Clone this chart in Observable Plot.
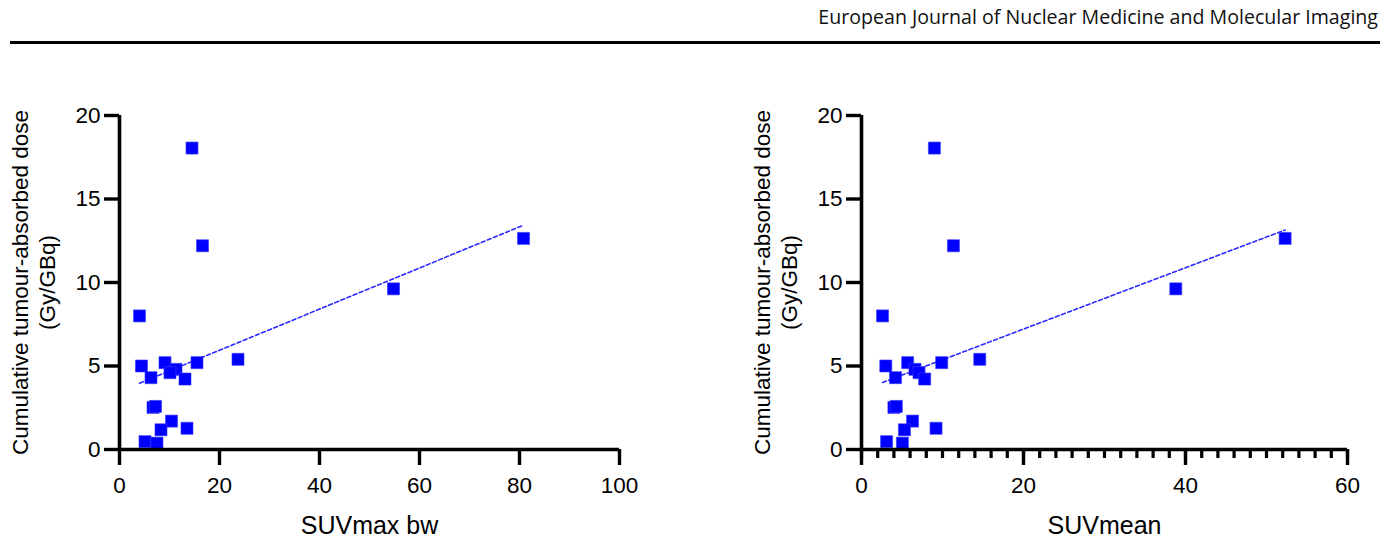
<!DOCTYPE html>
<html>
<head>
<meta charset="utf-8">
<script src="https://cdn.jsdelivr.net/npm/d3@7"></script>
<script src="https://cdn.jsdelivr.net/npm/@observablehq/plot@0.6"></script>
<style>
  html, body { margin: 0; padding: 0; background: #fff; width: 1387px; height: 544px; overflow: hidden; }
  #header { position: absolute; right: 9px; top: 3px; font-family: "Open Sans", sans-serif; font-size: 19.6px; color: #111; white-space: nowrap; }
  #rule { position: absolute; left: 10px; top: 41px; width: 1370px; height: 3px; background: #000; }
  .panel { position: absolute; top: 60px; }
  .panel svg { overflow: visible; }
</style>
</head>
<body>
<div id="header">European Journal of Nuclear Medicine and Molecular Imaging</div>
<div id="rule"></div>
<div id="left" class="panel" style="left:0px"></div>
<div id="right" class="panel" style="left:700px"></div>
<script>
// Cumulative tumour-absorbed dose (Gy/GBq) per lesion
const dose    = [18.05, 12.2, 8.0, 5.0, 4.3, 5.2, 4.8, 4.6, 4.22, 5.2, 5.4, 2.52, 2.58, 1.7, 1.18, 1.27, 0.47, 0.38, 9.62, 12.64];
// SUVmax bw per lesion
const suvMax  = [14.5, 16.6, 4.0, 4.4, 6.3, 9.1, 11.3, 10.1, 13.1, 15.5, 23.7, 6.7, 7.2, 10.4, 8.3, 13.5, 5.1, 7.5, 54.8, 80.8];
// SUVmean per lesion
const suvMean = [9.0, 11.35, 2.6, 3.0, 4.2, 5.7, 6.6, 7.1, 7.8, 9.9, 14.6, 4.0, 4.3, 6.3, 5.3, 9.2, 3.1, 5.05, 38.8, 52.3];

const yTicks = [0, 5, 10, 15, 20];
const maxTicks = [0, 20, 40, 60, 80, 100];
const meanTicks = [0, 20, 40, 60];
const meanMinorTicks = [0, 2, 4, 6, 8, 10, 12, 14, 16, 18, 20, 22, 24, 26, 28, 30, 32, 34, 36, 38, 40, 42, 44, 46, 48, 50, 52, 54, 56, 58, 60];

const yTitle = "Cumulative tumour-absorbed dose\n(Gy/GBq)";
const FONT = "Liberation Sans, Arial, sans-serif";

function panel({xs, xDomain, xMajor, xMinor, xTitle, width, marginLeft, marginRight}) {
  const rows = dose.map((d, i) => ({x: xs[i], y: d}));
  const marks = [
    Plot.linearRegressionY(rows, {x: "x", y: "y", ci: 0, stroke: "#2b2bff", strokeWidth: 1.6, strokeDasharray: "4,2.6"}),
    Plot.dot(rows, {x: "x", y: "y", symbol: "square", r: 6.8, fill: "#0000ff", stroke: "#3a3aff", strokeWidth: 0.6}),
    // axis lines
    Plot.ruleX([0], {y1: 0, y2: 20, stroke: "#000", strokeWidth: 3.6}),
    Plot.ruleY([0], {x1: xDomain[0], x2: xDomain[1], stroke: "#000", strokeWidth: 3.6}),
    // y axis ticks
    Plot.axisY({ticks: yTicks, tickSize: 15, tickPadding: 4, stroke: "#000", strokeWidth: 3.4, fontSize: 22.5, fontFamily: FONT, fill: "#000", label: null, tickFormat: d => String(d)}),
  ];
  if (xMinor) {
    marks.push(Plot.axisX({ticks: xMinor, tickSize: 9, stroke: "#000", strokeWidth: 3.2, text: null, label: null}));
  }
  marks.push(Plot.axisX({ticks: xMajor, tickSize: 16, tickPadding: 12, stroke: "#000", strokeWidth: 3.4, fontSize: 22.5, fontFamily: FONT, fill: "#000", label: null, tickFormat: d => String(d)}));
  marks.push(Plot.text([xTitle], {frameAnchor: "bottom", dy: 76, text: d => d, fontSize: 25, fontFamily: FONT, fill: "#000", textAnchor: "middle", lineAnchor: "middle"}));
  marks.push(Plot.text([yTitle], {frameAnchor: "left", dx: -87, rotate: -90, text: d => d, fontSize: 22.5, fontFamily: FONT, fill: "#000", textAnchor: "middle", lineAnchor: "middle", lineHeight: 1.2}));
  return Plot.plot({
    width, height: 484,
    marginLeft, marginRight, marginTop: 55, marginBottom: 95,
    style: {fontFamily: FONT, background: "transparent", overflow: "visible"},
    x: {domain: xDomain, axis: null},
    y: {domain: [0, 20], axis: null},
    marks
  });
}

document.getElementById("left").appendChild(panel({
  xs: suvMax, xDomain: [0, 100], xMajor: maxTicks, xMinor: null, xTitle: "SUVmax bw",
  width: 660, marginLeft: 119, marginRight: 41
}));
document.getElementById("right").appendChild(panel({
  xs: suvMean, xDomain: [0, 60], xMajor: meanTicks, xMinor: meanMinorTicks, xTitle: "SUVmean",
  width: 687, marginLeft: 161, marginRight: 40
}));
</script>
</body>
</html>
